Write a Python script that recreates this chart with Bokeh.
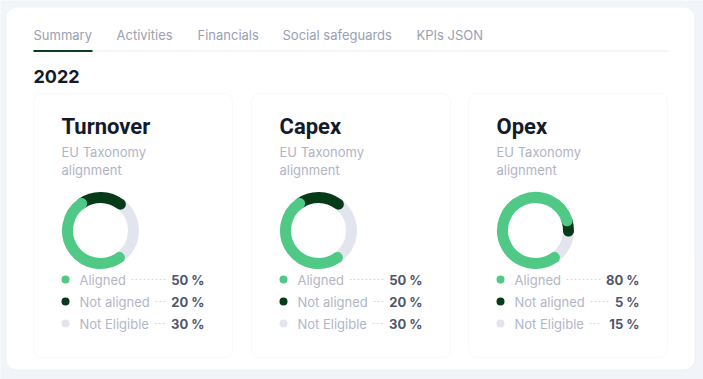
from bokeh.plotting import figure
from bokeh.models import Range1d, BoxAnnotation
from bokeh.core.properties import value
from bokeh.embed import file_html
from bokeh.resources import INLINE

# ---- data ----
tabs = ["Summary", "Activities", "Financials", "Social safeguards", "KPIs JSON"]
year = "2022"
kpi_titles = ["Turnover", "Capex", "Opex"]
subtitle_lines = ["EU Taxonomy", "alignment"]
categories = ["Aligned", "Not aligned", "Not Eligible"]
turnover = [50, 20, 30]
capex = [50, 20, 30]
opex = [80, 5, 15]
series = [turnover, capex, opex]

# ---- styles / layout ----
FONT = "Inter"
TITLE_FONT = "Roboto"
BG = "#f1f4f8"
GREEN = "#50c986"
DARK = "#063a18"
GREYSEG = "#e3e5ee"
seg_colors = [GREEN, DARK, GREYSEG]
TAB_X = [33, 116, 197, 282, 416]
CARD_X = [33, 251, 468]
CARD_W = 199
LABEL_W = {"Aligned": 45, "Not aligned": 69, "Not Eligible": 68}
START_DEG = 145  # clockwise from top

W, H = 703, 379
p = figure(width=W, height=H, x_range=Range1d(0, W), y_range=Range1d(0, H),
           output_backend="svg", toolbar_location=None, min_border=0,
           x_axis_type=None, y_axis_type=None)
p.grid.visible = False
p.outline_line_color = None
p.background_fill_color = BG
p.border_fill_color = BG


def Y(r):
    return H - r


def vw(s):
    m = {" ": 3.6, "%": 11.5}
    return sum(m.get(c, 8.0) for c in s)


f = value(FONT)

# outer panel (soft shadow + white)
p.add_layout(BoxAnnotation(left=6, right=695, top=Y(7), bottom=Y(370), fill_color="#e9edf2",
                           fill_alpha=0.6, line_color=None, border_radius=11, level="underlay"))
p.add_layout(BoxAnnotation(left=6, right=694, top=Y(7), bottom=Y(369), fill_color="white",
                           fill_alpha=1, line_color=None, border_radius=10, level="underlay"))
# cards
for cx in CARD_X:
    p.add_layout(BoxAnnotation(left=cx, right=cx + CARD_W, top=Y(93), bottom=Y(357),
                               fill_color="white", fill_alpha=1, line_color="#e8eaee",
                               line_width=1, border_radius=8, level="underlay"))

# tabs
p.text(x=TAB_X, y=[Y(34.3)] * len(tabs), text=tabs, text_font=f, text_font_size="13px",
       text_color="#9aa0b3", text_baseline="middle", text_align="left")
p.segment(x0=[33], y0=[Y(50.5)], x1=[668], y1=[Y(50.5)], line_color="#e9ebef", line_width=1)
p.segment(x0=[33], y0=[Y(50.5)], x1=[92], y1=[Y(50.5)], line_color="#0b3d1e", line_width=2)

# year
p.text(x=[33], y=[Y(75.5)], text=[year], text_font=f, text_font_size="18px",
       text_font_style="bold", text_color="#141a2a", text_baseline="middle")

for i, cx in enumerate(CARD_X):
    vals = series[i]
    p.text(x=[cx + 28], y=[Y(126.3)], text=[kpi_titles[i]], text_font=value(TITLE_FONT),
           text_font_size="22px", text_font_style="bold", text_color="#141a2a",
           text_baseline="middle")
    p.text(x=[cx + 28, cx + 28], y=[Y(151.2), Y(169)], text=subtitle_lines, text_font=f,
           text_font_size="13px", text_color="#b1b4c6", text_baseline="middle")
    # donut
    dcx, dcy = cx + 67, Y(230)
    total = float(sum(vals))
    bounds = []
    a = START_DEG
    for v in vals:
        b = a + 360.0 * v / total
        bounds.append((a, b))
        a = b
    for k in [2, 1, 0]:
        a0, a1 = bounds[k]
        p.arc(x=[dcx], y=[dcy], radius=33, radius_units="screen",
              start_angle=90 - a0, end_angle=90 - a1, start_angle_units="deg", end_angle_units="deg",
              direction="clock", line_color=seg_colors[k], line_width=11, line_cap="round")
    # legend
    for k, cat in enumerate(categories):
        ry = 279 + 22 * k
        p.scatter(x=[cx + 32], y=[Y(ry)], size=8, marker="circle", fill_color=seg_colors[k],
                  line_color=None)
        p.text(x=[cx + 46], y=[Y(ry)], text=[cat], text_font=f, text_font_size="13px",
               text_color="#b3b6c7", text_baseline="middle")
        vtxt = f"{vals[k]} %"
        vr = cx + 171
        p.text(x=[vr], y=[Y(ry)], text=[vtxt], text_font=f, text_font_size="13px",
               text_font_style="bold", text_color="#50556c", text_baseline="middle",
               text_align="right")
        x0 = cx + 46 + LABEL_W[cat] + 7
        x1 = vr - vw(vtxt) - 7
        p.segment(x0=[x0], y0=[Y(ry)], x1=[x1], y1=[Y(ry)], line_color="#d6d8e0",
                  line_width=1, line_dash="2 2")

open("out.html", "w").write(file_html(p, INLINE))
